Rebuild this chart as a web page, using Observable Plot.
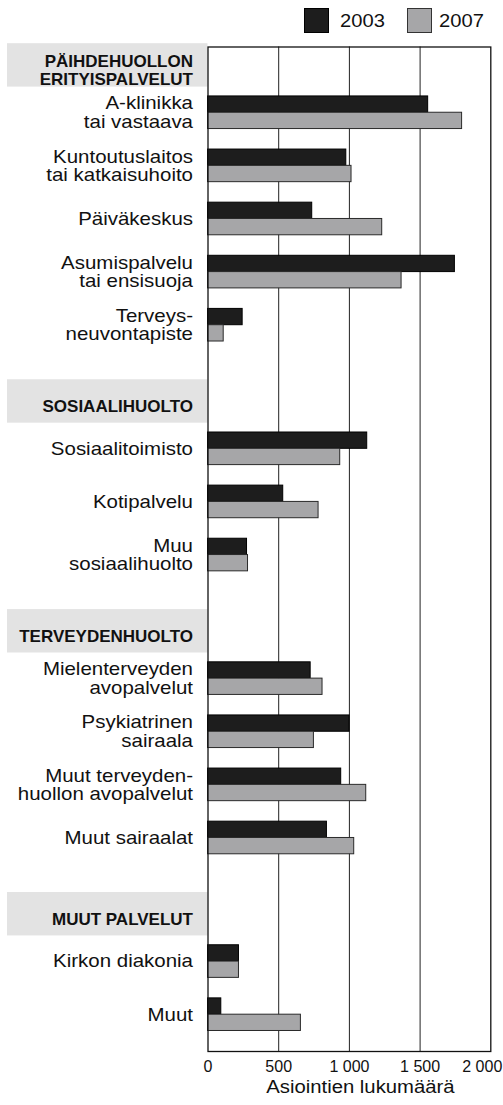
<!DOCTYPE html>
<html><head><meta charset="utf-8">
<script src="https://cdn.jsdelivr.net/npm/d3@7"></script>
<script src="https://cdn.jsdelivr.net/npm/@observablehq/plot@0.6"></script>
<style>
body{margin:0;background:#fff;font-family:"Liberation Sans",Arial,Helvetica,sans-serif;}
#legend{position:relative;width:503px;height:40px;}
.sw{position:absolute;top:8px;width:25px;height:25px;box-sizing:border-box;}
.lt{position:absolute;top:10.5px;font-size:18.5px;line-height:20px;color:#111;white-space:nowrap;transform:scaleX(1.09);transform-origin:left center;}
#chart svg{display:block;overflow:visible;}
</style></head><body>
<div id="legend"></div><div id="chart"></div>
<script>
// ---- data ----
const groupTitles = ["PÄIHDEHUOLLON\nERITYISPALVELUT", "SOSIAALIHUOLTO", "TERVEYDENHUOLTO", "MUUT PALVELUT"];
const categories = [
  "A-klinikka\ntai vastaava", "Kuntoutuslaitos\ntai katkaisuhoito", "Päiväkeskus",
  "Asumispalvelu\ntai ensisuoja", "Terveys-\nneuvontapiste",
  "Sosiaalitoimisto", "Kotipalvelu", "Muu\nsosiaalihuolto",
  "Mielenterveyden\navopalvelut", "Psykiatrinen\nsairaala", "Muut terveyden-\nhuollon avopalvelut", "Muut sairaalat",
  "Kirkon diakonia", "Muut"
];
const categoryGroup = [0, 0, 0, 0, 0, 1, 1, 1, 2, 2, 2, 2, 3, 3];
const years = ["2003", "2007"];
const values2003 = [1557, 978, 737, 1746, 245, 1126, 532, 276, 726, 1001, 942, 841, 219, 94];
const values2007 = [1797, 1015, 1232, 1369, 111, 935, 782, 283, 810, 749, 1119, 1034, 219, 657];
const xTicks = [0, 500, 1000, 1500, 2000];
const axisTitle = "Asiointien lukumäärä";

// ---- layout (row slots) ----
const TOP = 0.35, HEADER_TO_ITEM = 0.9, ITEM_STEP = 1.01, ITEM_TO_HEADER = 1.45, BOTTOM = 0.7, BAR = 0.31;
const headers = [], items = [];
let pos = TOP;
groupTitles.forEach((g, gi) => {
  if (gi > 0) pos += ITEM_TO_HEADER;
  headers.push({label: g, y: pos});
  pos += HEADER_TO_ITEM;
  let first = true;
  categories.forEach((c, i) => {
    if (categoryGroup[i] !== gi) return;
    if (!first) pos += ITEM_STEP;
    first = false;
    items.push({label: c, y: pos, v2003: values2003[i], v2007: values2007[i]});
  });
});
const total = pos + BOTTOM;
const bars = items.flatMap(d => [
  {year: years[0], value: d.v2003, y1: d.y - BAR, y2: d.y},
  {year: years[1], value: d.v2007, y1: d.y, y2: d.y + BAR}
]);

const fmt = d => d3.format(",")(d).replace(/,/g, " ");
const font = "'Liberation Sans', Arial, Helvetica, sans-serif";
const BLACK = "#1d1d1d", GRAY = "#a6a6a8";

// legend
const legend = document.getElementById("legend");
legend.innerHTML = `
  <div class="sw" style="left:304px;background:${BLACK};border:1px solid #000"></div>
  <div class="lt" style="left:340px">${years[0]}</div>
  <div class="sw" style="left:407px;background:${GRAY};border:1px solid #333"></div>
  <div class="lt" style="left:439px">${years[1]}</div>`;

const headerBands = (index, scales) => {
  const g = d3.create("svg:g");
  headers.forEach(h => {
    const cy = scales.y(h.y);
    g.append("rect").attr("x", 7).attr("y", cy - 21.7)
      .attr("width", scales.x(0) - 7).attr("height", 43.4).attr("fill", "#e3e3e3");
  });
  return g.node();
};

const plot = Plot.plot({
  width: 503, height: 1065,
  marginTop: 6.5, marginBottom: 54, marginLeft: 207.5, marginRight: 12.7,
  x: {domain: [0, 2000], axis: null},
  y: {domain: [0, total], reverse: true, axis: null},
  style: {fontFamily: font, background: "white", color: "#111"},
  marks: [
    headerBands,
    Plot.ruleX(xTicks.slice(1, 4), {stroke: "#222", strokeWidth: 1}),
    Plot.rect(bars.filter(d => d.year === years[0]), {x1: 0, x2: "value", y1: "y1", y2: "y2", fill: BLACK, stroke: "#000", strokeWidth: 1}),
    Plot.rect(bars.filter(d => d.year === years[1]), {x1: 0, x2: "value", y1: "y1", y2: "y2", fill: GRAY, stroke: "#2a2a2a", strokeWidth: 1}),
    Plot.frame({stroke: "#111", strokeWidth: 1.3}),
    Plot.text(items, {text: "label", y: "y", frameAnchor: "left", dx: -15, textAnchor: "end", lineAnchor: "middle", fontSize: 17.5, lineHeight: 1.05, fill: "#111"}),
    Plot.text(headers, {text: "label", y: "y", frameAnchor: "left", dx: -15, dy: 5, textAnchor: "end", lineAnchor: "middle", fontSize: 17, fontWeight: "bold", lineHeight: 1.08, fill: "#111"}),
    Plot.text(xTicks.slice(0, 4), {x: d => d, text: fmt, frameAnchor: "bottom", dy: 15.8, lineAnchor: "middle", fontSize: 16, fill: "#111"}),
    Plot.text(xTicks.slice(4), {x: d => d, text: fmt, frameAnchor: "bottom", dy: 15.8, dx: 11.5, textAnchor: "end", lineAnchor: "middle", fontSize: 16, fill: "#111"}),
    Plot.text([axisTitle], {frameAnchor: "bottom", dy: 35.9, dx: 11, lineAnchor: "middle", fontSize: 17.5, fill: "#111"})
  ]
});
// the reference typeface is set horizontally wide: stretch category labels and axis title
const textGroups = plot.querySelectorAll('g[aria-label="text"]');
[[0, 1.17], [4, 1.16]].forEach(([gi, s]) => {
  textGroups[gi].querySelectorAll("text").forEach(t => {
    t.setAttribute("transform", (t.getAttribute("transform") || "") + ` scale(${s},1)`);
  });
});
document.getElementById("chart").appendChild(plot);
</script></body></html>
